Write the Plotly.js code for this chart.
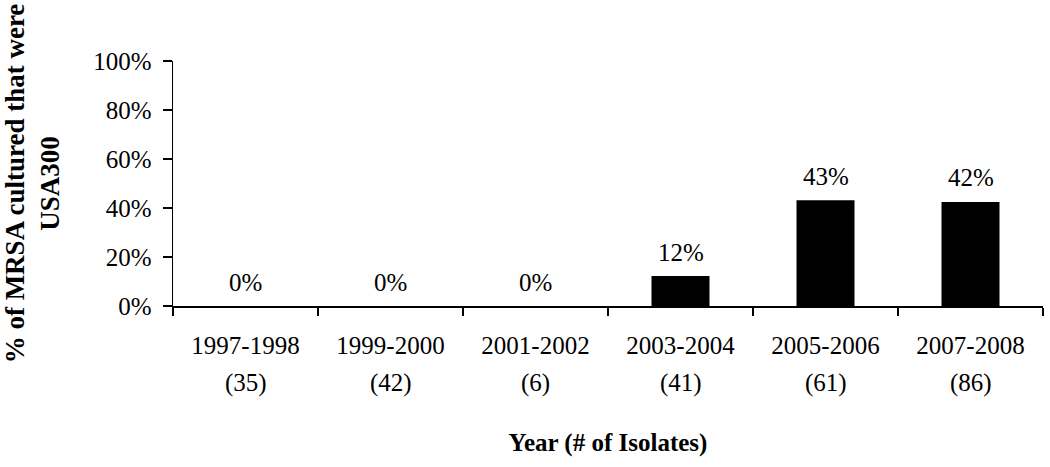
<!DOCTYPE html>
<html>
<head>
<meta charset="utf-8">
<script src="https://cdn.plot.ly/plotly-3.0.1.min.js"></script>
<style>html,body{margin:0;padding:0;background:#fff;}#chart{width:1050px;height:467px;}</style>
</head>
<body>
<div id="chart"></div>
<script>
const periods = ["1997-1998", "1999-2000", "2001-2002", "2003-2004", "2005-2006", "2007-2008"];
const isolateCounts = ["(35)", "(42)", "(6)", "(41)", "(61)", "(86)"];
const pctUSA300 = [0, 0, 0, 12.2, 43.2, 42.5];
const valueLabels = ["0%", "0%", "0%", "12%", "43%", "42%"];
const yTickVals = [0, 20, 40, 60, 80, 100];
const yTickText = ["0%", "20%", "40%", "60%", "80%", "100%"];

const FONT = "Liberation Serif, Times New Roman, serif";

const trace = {
  type: "bar",
  x: periods,
  y: pctUSA300,
  marker: {color: "#000000", line: {width: 0}},
  width: 0.4,
  hoverinfo: "skip"
};

const annotations = [];
periods.forEach((p, i) => {
  annotations.push({
    x: p, y: pctUSA300[i], xref: "x", yref: "y",
    text: valueLabels[i], showarrow: false,
    yanchor: "middle", yshift: 24,
    font: {family: FONT, size: 25, color: "#000"}
  });
  annotations.push({
    x: p, y: -0.314, xref: "x", yref: "paper",
    text: isolateCounts[i], showarrow: false,
    yanchor: "middle",
    font: {family: FONT, size: 25, color: "#000"}
  });
});

const layout = {
  width: 1050, height: 467,
  margin: {l: 173, r: 7, t: 61, b: 161},
  paper_bgcolor: "#fff", plot_bgcolor: "#fff",
  showlegend: false,
  font: {family: FONT, size: 25, color: "#000"},
  xaxis: {
    type: "category",
    tickson: "boundaries",
    ticks: "outside", ticklen: 8, tickwidth: 1.5, tickcolor: "#000",
    showline: true, linecolor: "#000", linewidth: 1.5,
    showgrid: false, zeroline: false,
    tickfont: {family: FONT, size: 25, color: "#000"},
    ticklabelstandoff: 16,
    title: {text: "<b>Year (# of Isolates)</b>", standoff: 76,
            font: {family: FONT, size: 25, color: "#000"}},
    automargin: false
  },
  yaxis: {
    range: [0, 100],
    tickvals: yTickVals, ticktext: yTickText,
    ticks: "outside", ticklen: 9, tickwidth: 1.5, tickcolor: "#000",
    showline: true, linecolor: "#000", linewidth: 1.5,
    showgrid: false, zeroline: false,
    tickfont: {family: FONT, size: 25, color: "#000"},
    ticklabelstandoff: 6,
    title: {text: "<b>% of MRSA cultured that were<br>USA300</b>", standoff: 30,
            font: {family: FONT, size: 27, color: "#000"}},
    automargin: false
  },
  annotations: annotations,
  bargap: 0.6
};

Plotly.newPlot("chart", [trace], layout, {displayModeBar: false, staticPlot: true});
</script>
</body>
</html>
